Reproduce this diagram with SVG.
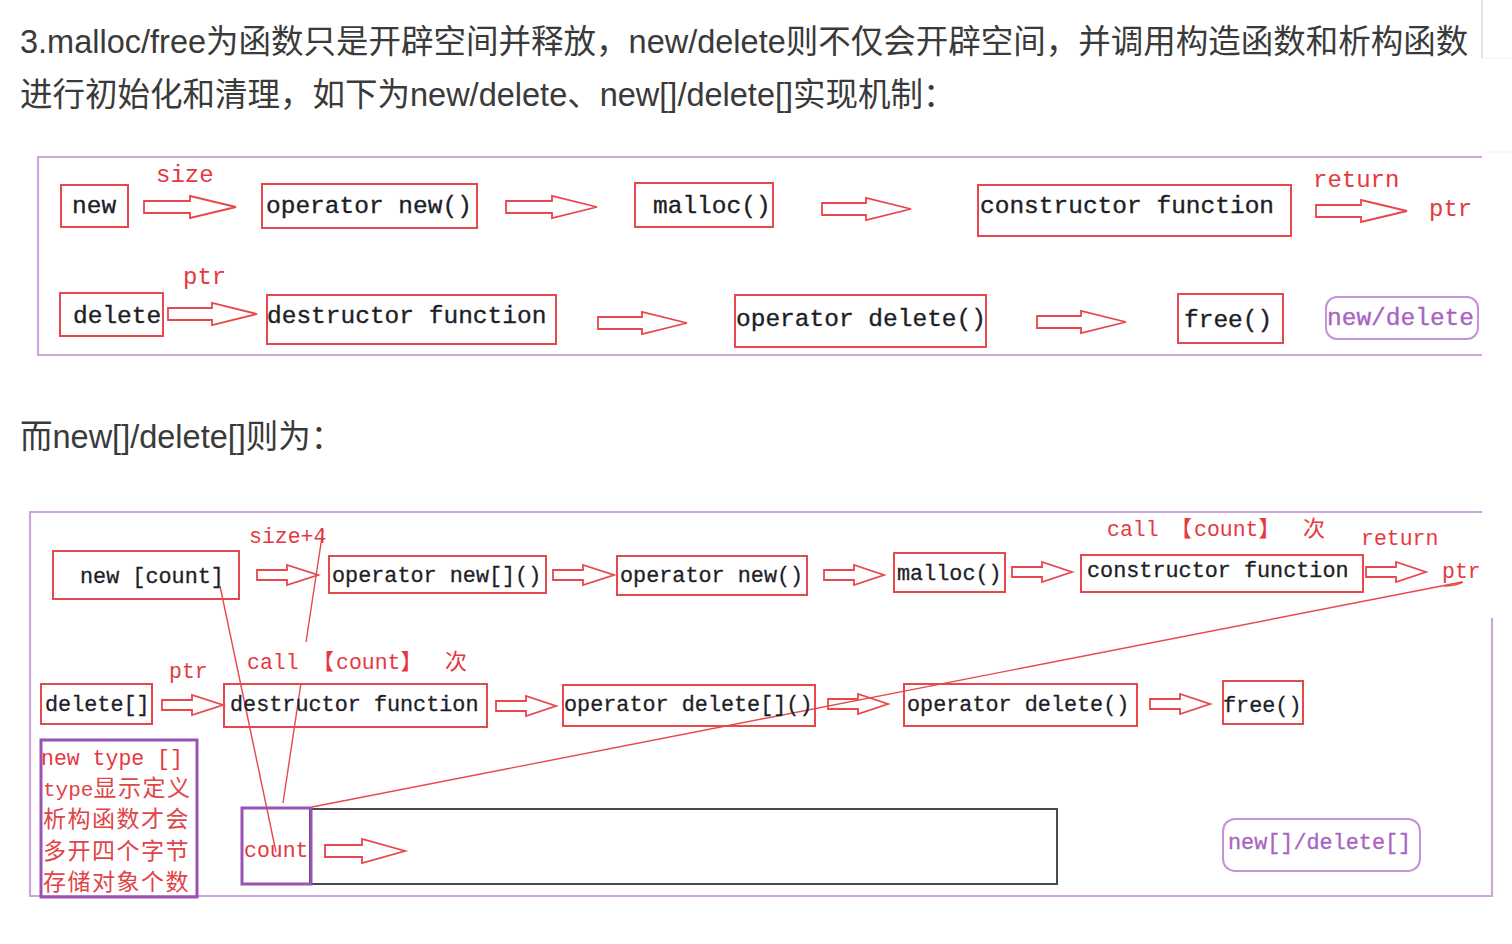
<svg xmlns="http://www.w3.org/2000/svg" width="1512" height="944" viewBox="0 0 1512 944">
<style>
.hd{font-family:"Liberation Sans","Noto Sans CJK SC",sans-serif;font-size:32.5px;fill:#3a3a3a}
.m1{font-family:"Liberation Mono","Noto Sans CJK SC",monospace;font-size:24.5px;fill:#1e1e28;stroke:#1e1e28;stroke-width:0.35}
.m2{font-family:"Liberation Mono","Noto Sans CJK SC",monospace;font-size:21.8px;fill:#1e1e28;stroke:#1e1e28;stroke-width:0.3}
.lb1{font-family:"Liberation Mono","Noto Sans CJK SC",monospace;font-size:24px;fill:#e4393f}
.lb2{font-family:"Liberation Mono","Noto Sans CJK SC",monospace;font-size:21.5px;fill:#e4393f}
.cj{font-family:"Noto Sans CJK SC",sans-serif;font-size:23px;letter-spacing:1.5px;fill:#e04448}
.box{fill:none;stroke:#e8474c;stroke-width:2}
.arr{fill:#fff;stroke:#e8474c;stroke-width:1.8;stroke-linejoin:miter}
.frame{fill:none;stroke:#cba5db;stroke-width:2.2}
.pbox{fill:none;stroke:#9a52b5;stroke-width:3}
.rbox{fill:none;stroke:#c892da;stroke-width:2}
.ptx{fill:#a864c2;stroke:#a864c2}
.ln{fill:none;stroke:#e8474c;stroke-width:1.4}
</style>
<rect width="1512" height="944" fill="#fff"/>
<g id="page-text">
<text class="hd" x="20" y="53">3.malloc/free为函数只是开辟空间并释放，new/delete则不仅会开辟空间，并调用构造函数和析构函数</text>
<text class="hd" x="20" y="106">进行初始化和清理，如下为new/delete、new[]/delete[]实现机制：</text>
<text class="hd" x="20" y="448">而new[]/delete[]则为：</text>
<line x1="1482" y1="0" x2="1482" y2="58" stroke="#cfcfcf" stroke-width="1.2"/>
<line x1="1483" y1="58" x2="1512" y2="58" stroke="#f0f0f0" stroke-width="1"/>
<line x1="1483" y1="152" x2="1512" y2="152" stroke="#f2f2f2" stroke-width="1"/>
</g>
<g id="frame1"><path class="frame" d="M1482,157 H38 V355 H1482"/></g>
<g id="frame2"><path class="frame" d="M1482,512 H30 V896 H1492 V618"/></g>

<g id="connectors">
<path class="arr" d="M144,201 H190 V196 L236,207 L190,218 V213 H144 Z"/>
<path class="arr" d="M506,201 H552 V196 L597,207 L552,218 V213 H506 Z"/>
<path class="arr" d="M822,203 H866 V198 L911,209 L866,220 V215 H822 Z"/>
<path class="arr" d="M1316,205 H1361 V200 L1407,211 L1361,222 V217 H1316 Z"/>
<path class="arr" d="M168,308 H212 V303 L257,314 L212,325 V320 H168 Z"/>
<path class="arr" d="M598,317 H642 V312 L687,323 L642,334 V329 H598 Z"/>
<path class="arr" d="M1037,316 H1081 V311 L1126,322 L1081,333 V328 H1037 Z"/>
<path class="arr" d="M257,570 H287 V565 L318,575 L287,585 V580 H257 Z"/>
<path class="arr" d="M553,570 H583 V565 L614,575 L583,585 V580 H553 Z"/>
<path class="arr" d="M824,570 H854 V565 L884,575 L854,585 V580 H824 Z"/>
<path class="arr" d="M1012,567 H1042 V562 L1072,572 L1042,582 V577 H1012 Z"/>
<path class="arr" d="M1366,567 H1396 V562 L1426,572 L1396,582 V577 H1366 Z"/>
<path class="arr" d="M162,700 H192 V695 L223,705 L192,715 V710 H162 Z"/>
<path class="arr" d="M496,701 H526 V696 L556,706 L526,716 V711 H496 Z"/>
<path class="arr" d="M828,699 H858 V694 L888,704 L858,714 V709 H828 Z"/>
<path class="arr" d="M1150,699 H1180 V694 L1210,704 L1180,714 V709 H1150 Z"/>
<path class="arr" d="M325,845 H362 V839 L405,851 L362,863 V857 H325 Z"/>
<path class="ln" d="M220,586 L276,852"/>
<path class="ln" d="M323,530 L306,642"/>
<path class="ln" d="M301,683 L283,803"/>
<path class="ln" d="M1463,582 Q1455,586 1444,586"/>
<path class="ln" d="M1462,582 L312,807"/>
</g>

<g id="labels1">
<text class="lb1" x="156" y="182">size</text>
<text class="lb1" x="1313" y="187">return</text>
<text class="lb1" x="1429" y="216">ptr</text>
<text class="lb1" x="183" y="284">ptr</text>
</g>
<g id="n1-new"><rect class="box" x="61" y="185" width="67" height="42"/><text class="m1" x="72" y="213">new</text></g>
<g id="n1-opnew"><rect class="box" x="262" y="184" width="215" height="44"/><text class="m1" x="266" y="213">operator new()</text></g>
<g id="n1-malloc"><rect class="box" x="635" y="183" width="138" height="44"/><text class="m1" x="653" y="213">malloc()</text></g>
<g id="n1-ctor"><rect class="box" x="978" y="185" width="313" height="51"/><text class="m1" x="980" y="213">constructor function</text></g>
<g id="n1-delete"><rect class="box" x="60" y="293" width="103" height="43"/><text class="m1" x="73" y="323">delete</text></g>
<g id="n1-dtor"><rect class="box" x="267" y="295" width="289" height="49"/><text class="m1" x="267" y="323">destructor function</text></g>
<g id="n1-opdel"><rect class="box" x="735" y="295" width="251" height="52"/><text class="m1" x="736" y="326">operator delete()</text></g>
<g id="n1-free"><rect class="box" x="1178" y="294" width="105" height="49"/><text class="m1" x="1184" y="327">free()</text></g>
<g id="n1-tag"><rect class="rbox" x="1326" y="297" width="152" height="42" rx="11"/><text class="m1 ptx" x="1327" y="325">new/delete</text></g>

<g id="labels2">
<text class="lb2" x="249" y="543">size+4</text>
<text class="lb2" x="1107" y="536">call<tspan x="1170" font-family="Noto Sans CJK SC" font-size="22">【</tspan><tspan x="1194">count</tspan><tspan font-family="Noto Sans CJK SC" font-size="22">】</tspan><tspan x="1303" font-family="Noto Sans CJK SC" font-size="22">次</tspan></text>
<text class="lb2" x="1361" y="545">return</text>
<text class="lb2" x="1442" y="578">ptr</text>
<text class="lb2" x="169" y="678">ptr</text>
<text class="lb2" x="247" y="669">call<tspan x="312" font-family="Noto Sans CJK SC" font-size="22">【</tspan><tspan x="336">count</tspan><tspan font-family="Noto Sans CJK SC" font-size="22">】</tspan><tspan x="445" font-family="Noto Sans CJK SC" font-size="22">次</tspan></text>
</g>
<g id="n2-newcount"><rect class="box" x="53" y="551" width="186" height="48"/><text class="m2" x="80" y="583">new [count]</text></g>
<g id="n2-opnewarr"><rect class="box" x="329" y="556" width="217" height="37"/><text class="m2" x="332" y="582">operator new[]()</text></g>
<g id="n2-opnew"><rect class="box" x="617" y="556" width="190" height="39"/><text class="m2" x="620" y="582">operator new()</text></g>
<g id="n2-malloc"><rect class="box" x="894" y="553" width="111" height="39"/><text class="m2" x="897" y="580">malloc()</text></g>
<g id="n2-ctor"><rect class="box" x="1081" y="555" width="282" height="37"/><text class="m2" x="1087" y="577">constructor function</text></g>
<g id="n2-delarr"><rect class="box" x="41" y="684" width="111" height="40"/><text class="m2" x="45" y="711">delete[]</text></g>
<g id="n2-dtor"><rect class="box" x="224" y="684" width="263" height="43"/><text class="m2" x="230" y="711">destructor function</text></g>
<g id="n2-opdelarr"><rect class="box" x="563" y="685" width="252" height="41"/><text class="m2" x="564" y="711">operator delete[]()</text></g>
<g id="n2-opdel"><rect class="box" x="904" y="684" width="233" height="42"/><text class="m2" x="907" y="711">operator delete()</text></g>
<g id="n2-free"><rect class="box" x="1223" y="681" width="80" height="43"/><text class="m2" x="1223" y="712">free()</text></g>
<g id="n2-note">
<rect class="pbox" x="41" y="740" width="156" height="157"/>
<text class="lb2" x="41" y="765" font-size="21">new type []</text>
<text class="cj" x="43" y="796"><tspan font-family="Liberation Mono" font-size="21" letter-spacing="0">type</tspan>显示定义</text>
<text class="cj" x="43" y="827">析构函数才会</text>
<text class="cj" x="43" y="859">多开四个字节</text>
<text class="cj" x="43" y="890">存储对象个数</text>
</g>
<g id="n2-mem">
<rect x="310" y="809" width="747" height="75" fill="none" stroke="#4a4a4a" stroke-width="2"/>
</g>
<g id="n2-count"><rect class="pbox" x="242" y="808" width="69" height="76"/><text class="lb2" x="244" y="857" font-size="20.5">count</text></g>
<g id="n2-tag"><path class="rbox" d="M1234,819 H1409 Q1420,821 1420,832 V858 Q1420,869 1409,871 H1234 Q1223,869 1223,858 V832 Q1223,821 1234,819 Z"/><text class="m2 ptx" x="1228" y="849">new[]/delete[]</text></g>
</svg>
